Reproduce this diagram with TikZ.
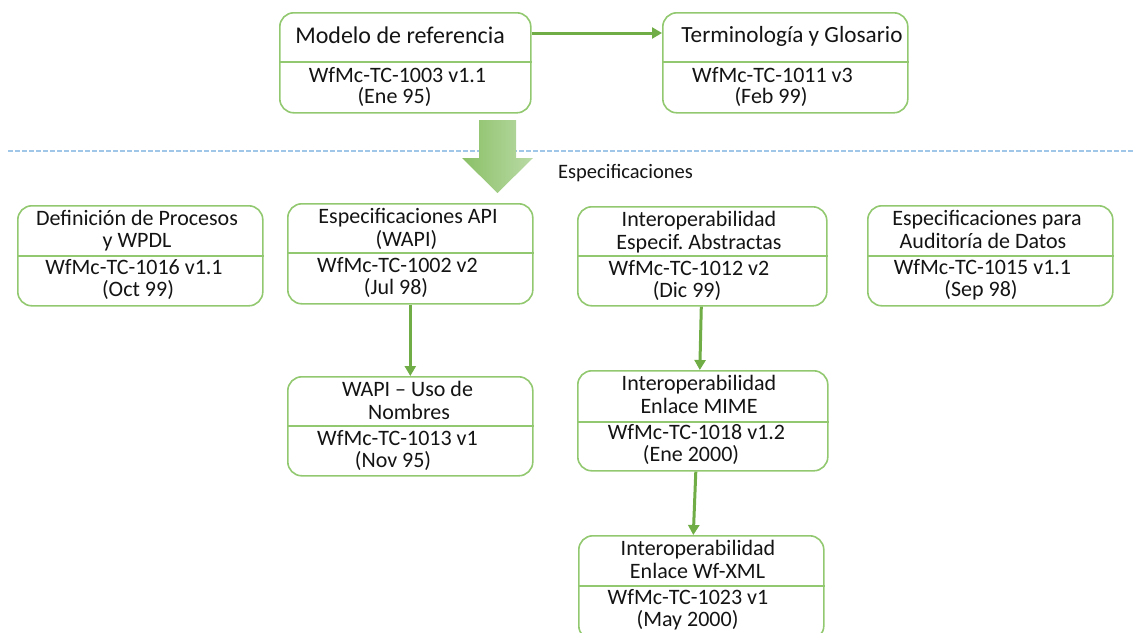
\documentclass[tikz,border=0pt]{standalone}
\usepackage{fontspec}
\setmainfont{Carlito}
\usetikzlibrary{arrows.meta}
\frenchspacing

\definecolor{boxgreen}{RGB}{146,201,112}
\definecolor{arrowgreen}{RGB}{112,173,71}
\definecolor{dashblue}{RGB}{160,198,232}
\definecolor{txtcol}{RGB}{20,20,20}
\definecolor{flowL}{RGB}{138,192,102}
\definecolor{flowR}{RGB}{186,218,166}

% box with a horizontal divider: name, left x, top y, width, height, divider offset
\newcommand\docbox[6]{%
  \node[specbox, minimum width=#4pt, minimum height=#5pt] (#1) at (#2,#3) {};
  \draw[divider] ([yshift=-#6pt]#1.north west) -- ([yshift=-#6pt]#1.north east);}

\begin{document}
\begin{tikzpicture}[x=1pt,y=-1pt,
  specbox/.style={draw=boxgreen, line width=1.6pt, rounded corners=14pt,
    anchor=north west, inner sep=0pt, fill=white},
  divider/.style={draw=boxgreen, line width=1.6pt},
  link/.style={draw=arrowgreen, line width=3pt,
    -{Triangle[length=10pt,width=11pt]}},
  txt/.style={font=\fontsize{22}{22}\selectfont, text=txtcol, anchor=base, inner sep=0pt},
  headtxt/.style={txt, font=\fontsize{24}{24}\selectfont}]

\useasboundingbox (0,0) rectangle (1135,632);

% separator between the reference documents and the specifications
\draw[dashblue, line width=1.3pt, dash pattern=on 5pt off 2pt] (8,151) -- (1135,151);

% broad downward arrow
\shade[left color=flowL, right color=flowR]
  (479,120) -- (516,120) -- (516,158) -- (533,158) -- (497.5,193)
  -- (462,158) -- (479,158) -- cycle;

\node[txt, font=\fontsize{20.5}{20.5}\selectfont, anchor=base west] (spec) at (558,178) {Especificaciones};

% top row
\docbox{modelo}{279}{12}{251}{100}{50}
\node[headtxt] (modeloA) at (400,43) {Modelo de referencia};
\node[txt] (modeloB) at (397.5,82) {WfMc-TC-1003 v1.1};
\node[txt] (modeloC) at (394.5,103) {(Ene 95)};

\docbox{termino}{662}{12}{245}{100}{50}
\node[headtxt, font=\fontsize{23.2}{23.2}\selectfont] (terminoA) at (792,42) {Terminología y Glosario};
\node[txt] (terminoB) at (772.5,82) {WfMc-TC-1011 v3};
\node[txt] (terminoC) at (771,103) {(Feb 99)};

% specifications row
\docbox{proc}{17}{205}{245}{100}{51}
\node[txt] (procA) at (137,225) {Definición de Procesos};
\node[txt] (procB) at (137,247) {y WPDL};
\node[txt] (procC) at (134,274) {WfMc-TC-1016 v1.1};
\node[txt] (procD) at (138,296) {(Oct 99)};

\docbox{api}{287}{203}{245}{100}{50}
\node[txt] (apiA) at (408,223) {Especificaciones API};
\node[txt] (apiB) at (406.5,246) {(WAPI)};
\node[txt] (apiC) at (397.5,272) {WfMc-TC-1002 v2};
\node[txt] (apiD) at (396,294) {(Jul 98)};

\docbox{abst}{577}{206}{249}{99}{50}
\node[txt] (abstA) at (699,226) {Interoperabilidad};
\node[txt] (abstB) at (699,249) {Especif. Abstractas};
\node[txt] (abstC) at (689,275) {WfMc-TC-1012 v2};
\node[txt] (abstD) at (687,297) {(Dic 99)};

\docbox{audit}{867}{205}{245}{100}{51}
\node[txt] (auditA) at (987,225) {Especificaciones para};
\node[txt] (auditB) at (983,248) {Auditoría de Datos};
\node[txt] (auditC) at (982.5,274) {WfMc-TC-1015 v1.1};
\node[txt] (auditD) at (981,296) {(Sep 98)};

% derived documents
\docbox{nombres}{287}{376}{245}{99}{50}
\node[txt] (nombresA) at (407.5,396) {WAPI – Uso de};
\node[txt] (nombresB) at (409,419) {Nombres};
\node[txt] (nombresC) at (397.5,445) {WfMc-TC-1013 v1};
\node[txt] (nombresD) at (393,467) {(Nov 95)};

\docbox{mime}{577}{370}{250}{100}{52}
\node[txt] (mimeA) at (699,390) {Interoperabilidad};
\node[txt] (mimeB) at (699,413) {Enlace MIME};
\node[txt] (mimeC) at (696.5,439) {WfMc-TC-1018 v1.2};
\node[txt] (mimeD) at (691,461) {(Ene 2000)};

\docbox{wfxml}{578}{535}{245}{104}{51}
\node[txt] (wfxmlA) at (698,555) {Interoperabilidad};
\node[txt] (wfxmlB) at (697.5,578) {Enlace Wf-XML};
\node[txt] (wfxmlC) at (688,604) {WfMc-TC-1023 v1};
\node[txt] (wfxmlD) at (687.5,626) {(May 2000)};

% connectors
\draw[link] ([yshift=-21pt]modelo.north east) -- ([yshift=-21pt]termino.north west);
\draw[link] (api.south) -- (nombres.north);
\draw[link] ([xshift=-1pt]abst.south) -- ([xshift=-3pt]mime.north);
\draw[link] ([xshift=-7pt]mime.south) -- ([xshift=-8pt]wfxml.north);

\end{tikzpicture}
\end{document}
